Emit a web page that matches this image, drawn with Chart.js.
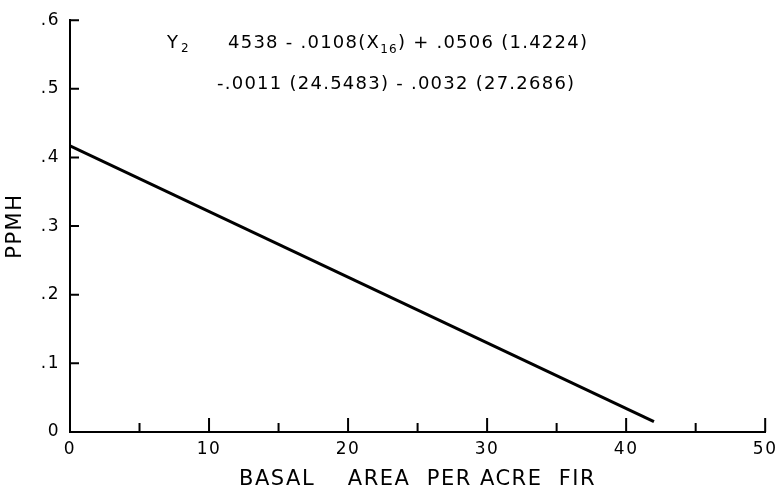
<!DOCTYPE html>
<html>
<head>
<meta charset="utf-8">
<script src="https://cdn.jsdelivr.net/npm/chart.js@4/dist/chart.umd.min.js"></script>
<style>
html,body{margin:0;padding:0;background:#fff;}
canvas{display:block;}
</style>
</head>
<body>
<canvas id="c" width="783" height="495"></canvas>
<script>
// Data
const basalArea = [0, 42];
const ppmh = [0.417, 0.015];
const xMajorTicks = [0, 10, 20, 30, 40, 50];
const xMinorTicks = [5, 15, 25, 35, 45];
const yTicks = [0, 0.1, 0.2, 0.3, 0.4, 0.5, 0.6];
const yTickLabels = ['0', '.1', '.2', '.3', '.4', '.5', '.6'];
const xTitle = 'BASAL    AREA  PER ACRE  FIR';
const yTitle = 'PPMH';
const eqY = 'Y';
const eqYSub = '2';
const eqLine1 = '4538 - .0108(X';
const eqLine1Sub = '16';
const eqLine1End = ') + .0506 (1.4224)';
const eqLine2 = '-.0011 (24.5483) - .0032 (27.2686)';

const FONT = '"DejaVu Sans", "Liberation Sans", sans-serif';

const tickPlugin = {
  id: 'inwardTicks',
  beforeDraw(chart) {
    chart.ctx.letterSpacing = '1.5px';
  },
  afterDraw(chart) {
    const ctx = chart.ctx;
    const xs = chart.scales.x, ys = chart.scales.y;
    const ca = chart.chartArea;
    ctx.save();
    ctx.strokeStyle = '#000';
    ctx.lineWidth = 2;
    ctx.beginPath();
    xMajorTicks.forEach(v => {
      if (v === 0) return;
      const px = xs.getPixelForValue(v);
      ctx.moveTo(px, ca.bottom); ctx.lineTo(px, ca.bottom - 14);
    });
    xMinorTicks.forEach(v => {
      const px = xs.getPixelForValue(v);
      ctx.moveTo(px, ca.bottom); ctx.lineTo(px, ca.bottom - 9);
    });
    yTicks.forEach(v => {
      if (v === 0) return;
      const py = ys.getPixelForValue(v);
      ctx.moveTo(ca.left, py); ctx.lineTo(ca.left + 9, py);
    });
    ctx.stroke();

    // equation text
    ctx.letterSpacing = '1.25px';
    ctx.fillStyle = '#000';
    ctx.textBaseline = 'alphabetic';
    ctx.textAlign = 'left';
    const big = '18px ' + FONT, small = '12px ' + FONT;
    const y1 = 48, y2 = 89;
    ctx.font = big;
    ctx.fillText(eqY, 167, y1);
    ctx.font = small;
    ctx.fillText(eqYSub, 181, y1 + 4);
    let x = 228;
    ctx.font = big;
    ctx.fillText(eqLine1, x, y1);
    x += ctx.measureText(eqLine1).width;
    ctx.font = small;
    ctx.fillText(eqLine1Sub, x, y1 + 5);
    x += ctx.measureText(eqLine1Sub).width;
    ctx.font = big;
    ctx.fillText(eqLine1End, x, y1);
    ctx.fillText(eqLine2, 217, y2);
    ctx.restore();
    ctx.letterSpacing = '0px';
  }
};

new Chart(document.getElementById('c'), {
  type: 'line',
  data: {
    datasets: [{
      data: basalArea.map((x, i) => ({x, y: ppmh[i]})),
      borderColor: '#000',
      borderWidth: 3,
      pointRadius: 0,
      fill: false,
      tension: 0
    }]
  },
  options: {
    responsive: false,
    animation: false,
    layout: {padding: {top: 13, right: 16, left: 0, bottom: 0}},
    plugins: {legend: {display: false}, tooltip: {enabled: false}},
    scales: {
      x: {
        type: 'linear', min: 0, max: 50,
        afterFit(s) { s.height = 63; },
        afterBuildTicks(s) { s.ticks = xMajorTicks.map(v => ({value: v})); },
        grid: {display: true, drawOnChartArea: false, drawTicks: false},
        border: {display: true, color: '#000', width: 2},
        ticks: {color: '#000', padding: 7, maxRotation: 0,
          font: {family: FONT, size: 17}},
        title: {display: true, text: xTitle, color: '#000',
          font: {family: FONT, size: 21}, padding: {top: 0, bottom: 3}}
      },
      y: {
        type: 'linear', min: 0, max: 0.6,
        afterFit(s) { s.width = 70; },
        afterBuildTicks(s) { s.ticks = yTicks.map(v => ({value: v})); },
        grid: {display: true, drawOnChartArea: false, drawTicks: false},
        border: {display: true, color: '#000', width: 2},
        ticks: {color: '#000', padding: 10,
          font: {family: FONT, size: 17},
          callback: (v) => yTickLabels[yTicks.findIndex(t => Math.abs(t - v) < 1e-9)]},
        title: {display: true, text: yTitle, color: '#000',
          font: {family: FONT, size: 21}, padding: {top: 3, bottom: 0}}
      }
    }
  },
  plugins: [tickPlugin]
});
</script>
</body>
</html>
